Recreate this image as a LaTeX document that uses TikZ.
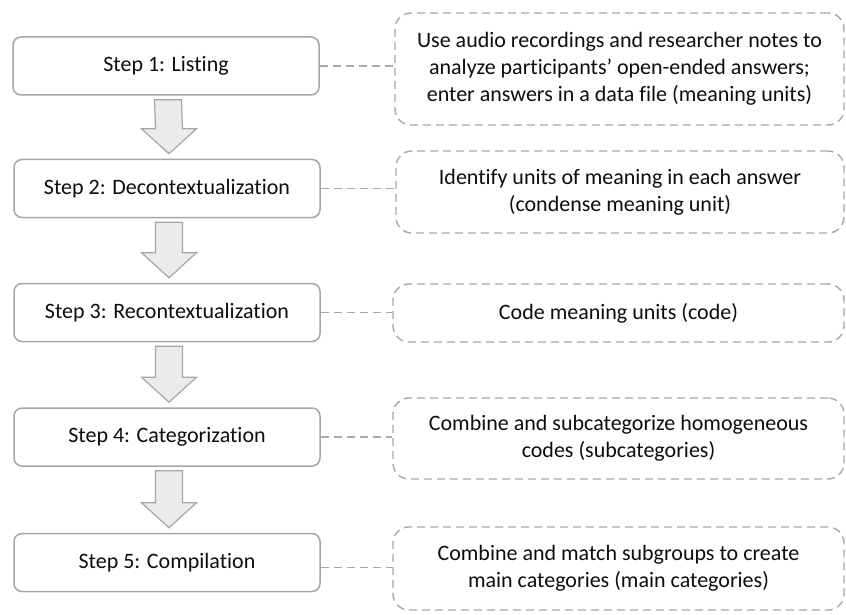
\documentclass[tikz,border=0pt]{standalone}
\usepackage{fontspec}
\setmainfont{Carlito}[Ligatures=NoCommon]
\usetikzlibrary{calc}
\definecolor{bordergray}{HTML}{A6A6A6}
\definecolor{dashgray}{HTML}{A8A8A8}
\definecolor{arrowfill}{HTML}{EBEBEB}
\definecolor{txt}{HTML}{0D0D0D}
\tikzset{
  stepbox/.style={draw=bordergray, line width=1.5pt, rounded corners=8pt, fill=white,
    minimum width=306pt, minimum height=58pt, inner sep=0pt, text=txt,
    font=\fontsize{22}{27}\selectfont},
  notebox/.style={draw=dashgray, line width=1.4pt, dash pattern=on 8pt off 5pt,
    rounded corners=16pt, inner sep=0pt, text=txt, align=center,
    font=\fontsize{22}{27}\selectfont},
  link/.style={draw=dashgray, line width=1.4pt, dash pattern=on 8pt off 5pt},
  bigarrow/.style={draw=bordergray, line width=1.2pt, fill=arrowfill, line join=miter}
}
\newcommand\flowarrow[2]{%
  \draw[bigarrow] ($(#1.south)+(2-13.5,4)$) -- ($(#2.north)+(2-13.5,-30)$)
    -- ($(#2.north)+(2-27.5,-30)$) -- ($(#2.north)+(2,-5)$)
    -- ($(#2.north)+(2+27.5,-30)$) -- ($(#2.north)+(2+13.5,-30)$)
    -- ($(#1.south)+(2+13.5,4)$) -- cycle;}
\begin{document}
\begin{tikzpicture}[x=1pt,y=-1pt]
\useasboundingbox (0,0) rectangle (846,615);
% left step boxes
\node[stepbox] (s1) at (166,66)    {Step 1: Listing};
\node[stepbox] (s2) at (167,188.5) {Step 2: Decontextualization};
\node[stepbox] (s3) at (167,312.5) {Step 3: Recontextualization};
\node[stepbox] (s4) at (167,437)   {Step 4: Categorization};
\node[stepbox] (s5) at (167,562.5) {Step 5: Compilation};
% right note boxes
\node[notebox, minimum width=449pt, minimum height=112pt] (n1) at (619.5,69)
  {Use audio recordings and researcher notes to\\analyze participants’ open-ended answers;\\enter answers in a data file (meaning units)};
\node[notebox, minimum width=448pt, minimum height=82pt] (n2) at (620,192)
  {Identify units of meaning in each answer\\(condense meaning unit)};
\node[notebox, minimum width=451pt, minimum height=58pt] (n3) at (618.5,313)
  {Code meaning units (code)};
\node[notebox, minimum width=451pt, minimum height=81pt] (n4) at (618.5,438.5)
  {Combine and subcategorize homogeneous\\codes (subcategories)};
\node[notebox, minimum width=451pt, minimum height=83pt] (n5) at (618.5,568.5)
  {Combine and match subgroups to create\\main categories (main categories)};
% arrows
\flowarrow{s1}{s2}
\flowarrow{s2}{s3}
\flowarrow{s3}{s4}
\flowarrow{s4}{s5}
% dashed links
\draw[link] (s1.east) -- (s1.east -| n1.west);
\draw[link] (s2.east) -- (s2.east -| n2.west);
\draw[link] (s3.east) -- (s3.east -| n3.west);
\draw[link] (s4.east) -- (s4.east -| n4.west);
\draw[link] ([yshift=-5pt]s5.east) -- ([yshift=-5pt]s5.east -| n5.west);
\end{tikzpicture}
\end{document}
